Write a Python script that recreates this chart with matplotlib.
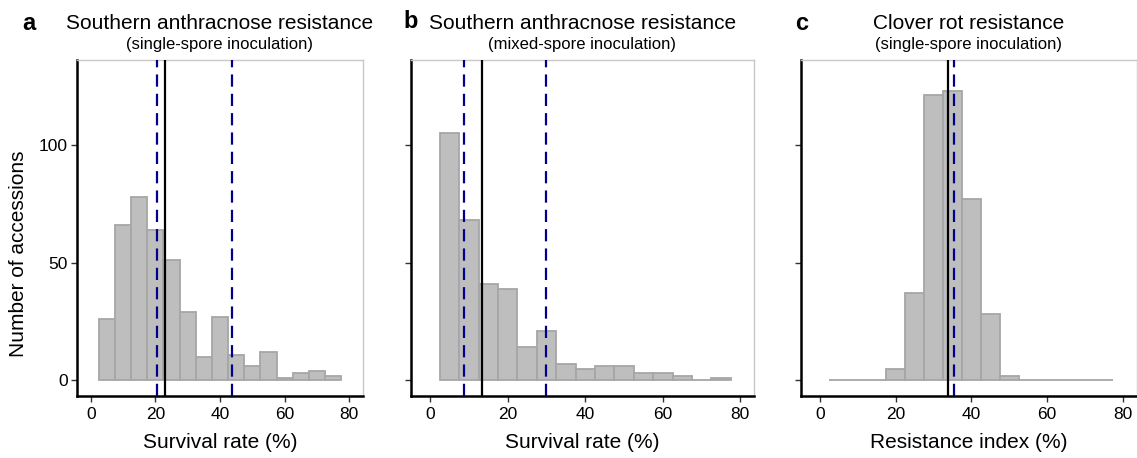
import matplotlib
matplotlib.use("Agg")
import matplotlib.pyplot as plt
import numpy as np

plt.rcParams['font.family'] = ['Liberation Sans', 'DejaVu Sans']

# ---- data ----
bin_centers = [5, 10, 15, 20, 25, 30, 35, 40, 45, 50, 55, 60, 65, 70, 75]
bin_width = 5
counts_a = [26, 66, 78, 64, 51, 29, 10, 27, 11, 6, 12, 1, 3, 4, 2]
counts_b = [105, 68, 41, 39, 14, 21, 7, 5, 6, 6, 3, 3, 2, 0, 1]
counts_c = [0, 0, 0, 5, 37, 121, 123, 77, 28, 2, 0, 0, 0, 0, 0]
median_a, ci_a = 23.0, [20.6, 43.8]
median_b, ci_b = 13.3, [8.6, 29.8]
median_c, ci_c = 33.8, [35.5]
panel_letters = ["a", "b", "c"]
titles = ["Southern anthracnose resistance", "Southern anthracnose resistance", "Clover rot resistance"]
subtitles = ["(single-spore inoculation)", "(mixed-spore inoculation)", "(single-spore inoculation)"]
xlabels = ["Survival rate (%)", "Survival rate (%)", "Resistance index (%)"]
x_ticks = [0, 20, 40, 60, 80]
y_ticks = [0, 50, 100]
ylabel = "Number of accessions"

W, H = 1137, 458
fig = plt.figure(figsize=(W / 100, H / 100), dpi=100)

# pixel geometry: (left, right, xlim)
panels = [
    (77.3, 362.7, (-4.15, 84.15)),
    (410.5, 754.3, (-5.1, 83.6)),
    (800.5, 1136.5, (-5.1, 83.6)),
]
top_px, bot_px = 60, 395.5
ylim = (-6.4, 136)

datasets = [(counts_a, median_a, ci_a), (counts_b, median_b, ci_b), (counts_c, median_c, ci_c)]

for i, ((l, r, xl), (cnts, med, ci)) in enumerate(zip(panels, datasets)):
    ax = fig.add_axes([l / W, (H - bot_px) / H, (r - l) / W, (bot_px - top_px) / H])
    ax.bar(bin_centers, cnts, width=bin_width, color="#BEBEBE", edgecolor="#A6A6A6",
           linewidth=1.3, zorder=2)
    for c in ci:
        ax.axvline(c, color="#00008B", linestyle=(0, (5.5, 3.2)), linewidth=1.6, zorder=3)
    ax.axvline(med, color="black", linewidth=1.6, zorder=3)
    ax.set_xlim(*xl)
    ax.set_ylim(*ylim)
    ax.set_xticks(x_ticks)
    ax.set_yticks(y_ticks)
    ax.tick_params(axis='both', length=4, width=1.0, color="#333333", labelsize=12.5, pad=3)
    ax.tick_params(axis='x', pad=4)
    if i == 0:
        ax.set_yticklabels([str(v) for v in y_ticks])
    else:
        ax.set_yticklabels([])
    for s in ["left", "bottom"]:
        ax.spines[s].set_color("black")
        ax.spines[s].set_linewidth(1.8)
    for s in ["top", "right"]:
        ax.spines[s].set_color("#C8C8C8")
        ax.spines[s].set_linewidth(1.0)
    ax.set_xlabel(xlabels[i], fontsize=15, labelpad=8)
    cx = (l + r) / 2 / W
    fig.text(cx, 1 - 23.5 / H, titles[i], ha="center", va="center", fontsize=15)
    fig.text(cx, 1 - 45 / H, subtitles[i], ha="center", va="center", fontsize=12)

fig.text(29 / W, 1 - 24 / H, "a", ha="center", va="center", fontsize=17, fontweight="bold")
fig.text(411 / W, 1 - 22 / H, "b", ha="center", va="center", fontsize=17, fontweight="bold")
fig.text(802 / W, 1 - 24 / H, "c", ha="center", va="center", fontsize=17, fontweight="bold")
fig.text(18.5 / W, 1 - 254 / H, ylabel, ha="center", va="center", rotation=90, fontsize=15)

fig.savefig("out.png", dpi=100)
